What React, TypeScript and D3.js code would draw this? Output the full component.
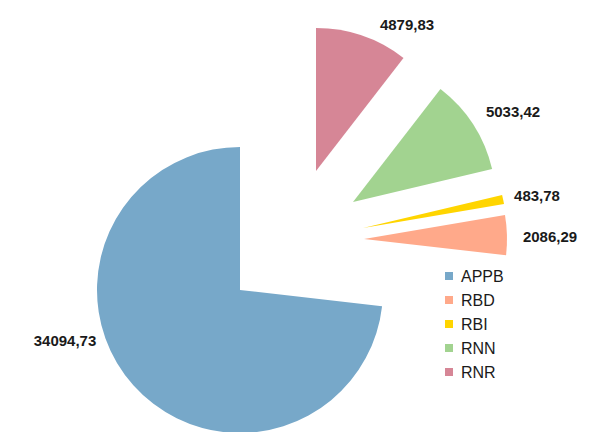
import React from "react";
import * as d3 from "d3";

const categories = ["APPB", "RBD", "RBI", "RNN", "RNR"];
const values = [34094.73, 2086.29, 483.78, 5033.42, 4879.83];
const valueLabels = ["34094,73", "2086,29", "483,78", "5033,42", "4879,83"];
const colors = ["#77a8c9", "#ffa98a", "#ffd500", "#a2d390", "#d68696"];

// layout (not data)
const W = 608;
const H = 432;
const CX = 240;
const CY = 290;
const R = 143;
const explodeOffsets: [number, number][] = [
  [0, 0],
  [124, -51],
  [123, -62],
  [113, -88],
  [76, -119],
];
const labelOffsets: [number, number][] = [
  [-175, 51],
  [186, -2],
  [174, -32],
  [160, -90],
  [91, -146],
];

export default function App() {
  const pie = d3
    .pie<number>()
    .sort(null)
    .value((d) => d)
    .startAngle(0)
    .endAngle(-2 * Math.PI);
  const arcs = pie(values);
  const arc = d3.arc<d3.PieArcDatum<number>>().innerRadius(0).outerRadius(R);

  return (
    <svg
      width={W}
      height={H}
      style={{ position: "absolute", left: 0, top: 0, display: "block", background: "#fff" }}
      fontFamily="'Liberation Sans', Arial, sans-serif"
    >
      {arcs.map((a, i) => {
        const [dx, dy] = explodeOffsets[i];
        return (
          <path
            key={categories[i]}
            d={arc(a) || ""}
            fill={colors[i]}
            transform={`translate(${CX + dx},${CY + dy})`}
          />
        );
      })}
      {arcs.map((a, i) => {
        const [dx, dy] = explodeOffsets[i];
        const [lx, ly] = labelOffsets[i];
        return (
          <text
            key={"l" + i}
            x={CX + dx + lx}
            y={CY + dy + ly}
            dy="0.36em"
            textAnchor="middle"
            fontSize={15}
            fontWeight="bold"
            fill="#1a1a1a"
          >
            {valueLabels[i]}
          </text>
        );
      })}
      <g transform="translate(445,276)">
        {categories.map((c, i) => (
          <g key={c} transform={`translate(0,${i * 24})`}>
            <rect x={0} y={-4} width={8} height={8} fill={colors[i]} />
            <text x={16} y={0} dy="0.36em" fontSize={16} fill="#1a1a1a">
              {c}
            </text>
          </g>
        ))}
      </g>
    </svg>
  );
}
